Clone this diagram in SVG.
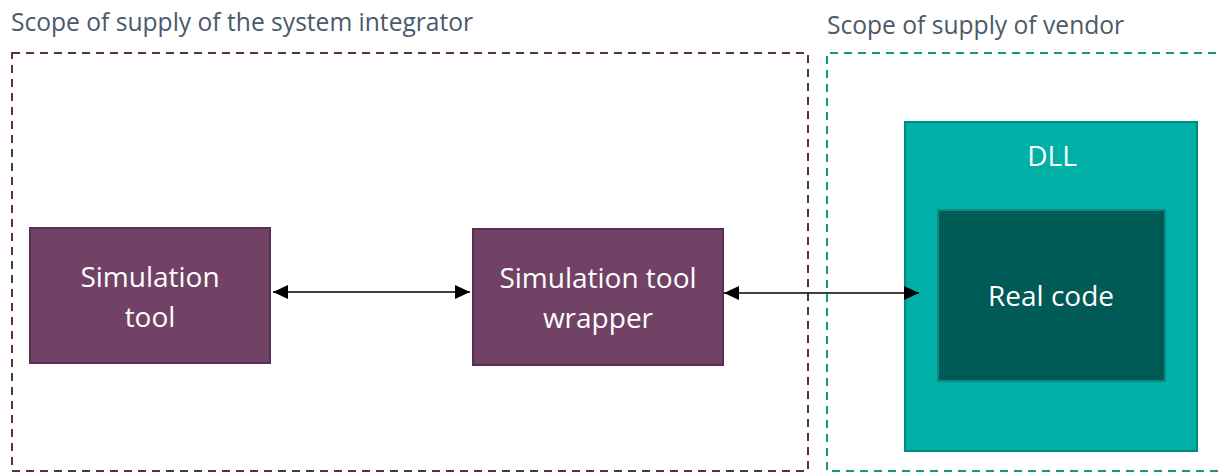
<svg xmlns="http://www.w3.org/2000/svg" width="1218" height="473" viewBox="0 0 1218 473">
<style>
.scope{font-family:"Open Sans","Noto Sans",sans-serif;font-size:24.6px;fill:#4b5a6b}
.lbl{font-family:"Open Sans","Noto Sans",sans-serif;font-size:28px;fill:#ffffff;text-anchor:middle}
.purple{fill:#724266;stroke:#5a2f4e;stroke-width:2}
.conn{stroke:#000;stroke-width:1.5;fill:none;marker-start:url(#ah);marker-end:url(#ah)}
</style>
<defs>
<marker id="ah" viewBox="0 0 15 14" refX="15" refY="7" markerWidth="15" markerHeight="14" markerUnits="userSpaceOnUse" orient="auto-start-reverse">
<path d="M0,0 L15,7 L0,14 z" fill="#000"/>
</marker>
</defs>
<rect width="1218" height="473" fill="#ffffff"/>
<g id="scope-integrator">
<rect x="12" y="53" width="796" height="418" fill="none" stroke="#5a2f4e" stroke-width="2" stroke-dasharray="8,6"/>
<text class="scope" x="11" y="31">Scope of supply of the system integrator</text>
</g>
<g id="scope-vendor">
<path d="M1230,53 H827 V471 H1230" fill="none" stroke="#13968a" stroke-width="2" stroke-dasharray="8,6"/>
<text class="scope" x="827" y="34">Scope of supply of vendor</text>
</g>
<g id="sim-tool">
<rect class="purple" x="30" y="228" width="240" height="135"/>
<text class="lbl" x="150" y="287">Simulation</text>
<text class="lbl" x="150" y="327">tool</text>
</g>
<g id="sim-wrapper">
<rect class="purple" x="473" y="229" width="250" height="136"/>
<text class="lbl" x="598" y="288">Simulation tool</text>
<text class="lbl" x="598" y="328">wrapper</text>
</g>
<g id="dll">
<rect x="905" y="122" width="292" height="329" fill="#00b0a6" stroke="#008a80" stroke-width="2"/>
<text class="lbl" x="1052" y="166">DLL</text>
</g>
<g id="real-code">
<rect x="938" y="210" width="227" height="171" fill="#005a55" stroke="#0a8a82" stroke-width="2"/>
<text class="lbl" x="1051" y="306">Real code</text>
</g>
<g id="connectors">
<line class="conn" x1="273" y1="292" x2="470" y2="292"/>
<line class="conn" x1="724" y1="293" x2="919" y2="293"/>
</g>
</svg>
